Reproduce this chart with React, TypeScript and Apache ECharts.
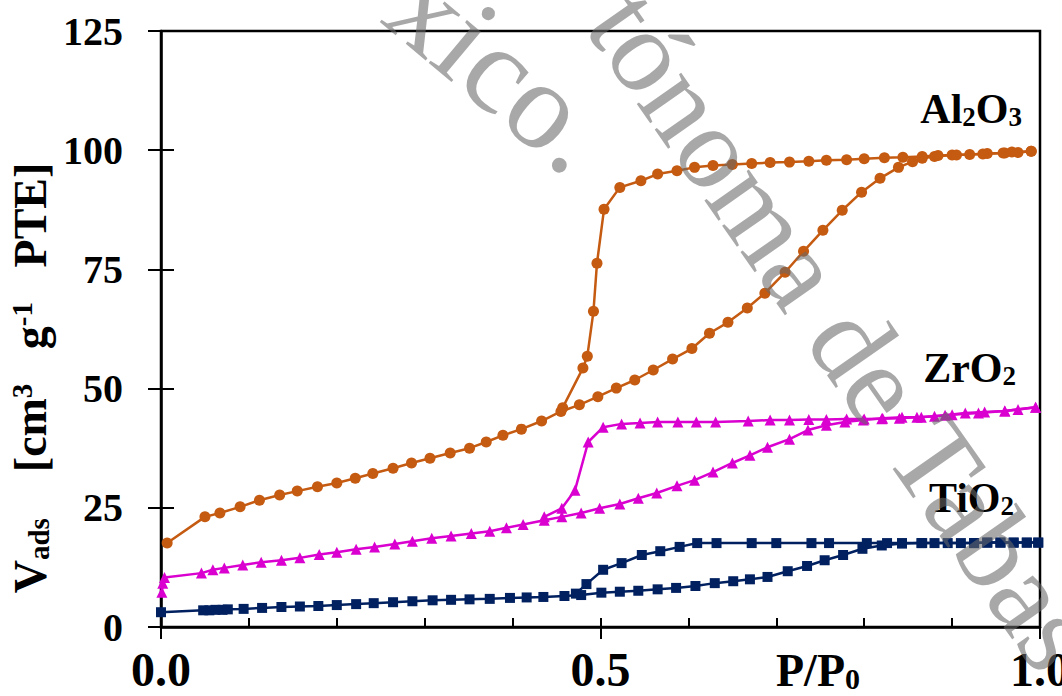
import React, { useEffect, useRef } from "react";
import * as echarts from "echarts";

// ---------- data ----------
const xTickLabels = ["0.0", "0.5", "1.0"];
const yTickValues = [0, 25, 50, 75, 100, 125];

const tio2Adsorption: [number, number][] = [
  [0.0, 3.1], [0.048, 3.5], [0.055, 3.5], [0.062, 3.6], [0.07, 3.6], [0.076, 3.7],
  [0.094, 3.8], [0.115, 4.0], [0.137, 4.2], [0.158, 4.3], [0.179, 4.4], [0.2, 4.6],
  [0.222, 4.8], [0.242, 5.0], [0.264, 5.2], [0.286, 5.4], [0.309, 5.6], [0.33, 5.7],
  [0.351, 5.8], [0.374, 5.9], [0.397, 6.1], [0.416, 6.2], [0.435, 6.3], [0.459, 6.5],
  [0.478, 6.7], [0.501, 7.2], [0.522, 7.4], [0.543, 7.6], [0.565, 7.9], [0.586, 8.2],
  [0.608, 8.6], [0.63, 9.2], [0.651, 9.6], [0.67, 10.0], [0.69, 10.5], [0.713, 11.7],
  [0.735, 12.8], [0.755, 14.0], [0.776, 15.1], [0.798, 16.4], [0.82, 17.1], [0.843, 17.5],
  [0.865, 17.6], [0.88, 17.6], [0.895, 17.6], [0.91, 17.6], [0.925, 17.6], [0.94, 17.7],
  [0.955, 17.7], [0.97, 17.7], [0.985, 17.7], [0.998, 17.7],
];
const tio2Desorption: [number, number][] = [
  [0.998, 17.7], [0.985, 17.7], [0.97, 17.7], [0.955, 17.7], [0.94, 17.7], [0.925, 17.6],
  [0.866, 17.6], [0.843, 17.6], [0.826, 17.6], [0.803, 17.6], [0.76, 17.6], [0.74, 17.6],
  [0.7, 17.6], [0.672, 17.6], [0.632, 17.6], [0.61, 17.6], [0.59, 16.8], [0.568, 15.9],
  [0.547, 15.1], [0.524, 13.4], [0.503, 12.0], [0.484, 9.0], [0.472, 7.0],
];

const zro2Adsorption: [number, number][] = [
  [0.001, 7.3], [0.002, 9.2], [0.004, 10.4], [0.046, 11.3], [0.059, 12.0], [0.072, 12.4],
  [0.093, 13.0], [0.114, 13.6], [0.137, 14.0], [0.158, 14.5], [0.18, 15.2], [0.2, 15.7],
  [0.222, 16.3], [0.243, 16.8], [0.266, 17.4], [0.286, 18.0], [0.308, 18.6], [0.33, 19.1],
  [0.353, 19.6], [0.374, 20.1], [0.393, 20.8], [0.412, 21.5], [0.436, 22.4], [0.456, 23.1],
  [0.478, 23.9], [0.499, 24.9], [0.522, 25.8], [0.543, 27.0], [0.564, 28.1], [0.587, 29.6],
  [0.607, 30.8], [0.628, 32.5], [0.65, 34.4], [0.67, 36.0], [0.69, 37.7], [0.715, 39.4],
  [0.736, 41.3], [0.757, 42.3], [0.778, 43.0], [0.799, 43.4], [0.821, 43.8], [0.843, 44.0],
  [0.865, 44.0], [0.892, 44.4], [0.915, 44.9], [0.937, 45.1], [0.96, 45.3], [0.975, 45.6],
  [0.995, 46.1],
];
const zro2Desorption: [number, number][] = [
  [0.995, 46.1], [0.96, 45.3], [0.93, 44.9], [0.9, 44.5], [0.88, 44.2], [0.86, 44.0],
  [0.84, 43.8], [0.82, 43.7], [0.8, 43.6], [0.78, 43.6], [0.757, 43.5], [0.737, 43.5],
  [0.715, 43.4], [0.693, 43.4], [0.668, 43.2], [0.631, 43.0], [0.609, 43.0], [0.588, 43.0],
  [0.565, 43.0], [0.545, 42.8], [0.524, 42.6], [0.503, 41.9], [0.486, 38.8], [0.471, 28.7],
  [0.456, 24.9], [0.436, 23.1],
];

const al2o3Adsorption: [number, number][] = [
  [0.007, 17.6], [0.05, 23.1], [0.067, 23.9], [0.09, 25.2], [0.112, 26.6], [0.135, 27.7],
  [0.155, 28.5], [0.178, 29.4], [0.2, 30.2], [0.221, 31.2], [0.241, 32.2], [0.264, 33.3],
  [0.285, 34.4], [0.306, 35.4], [0.329, 36.5], [0.351, 37.5], [0.37, 38.8], [0.389, 40.2],
  [0.41, 41.5], [0.433, 43.2], [0.455, 45.2], [0.476, 46.6], [0.497, 48.3], [0.518, 50.1],
  [0.539, 51.8], [0.56, 53.9], [0.582, 56.2], [0.604, 58.4], [0.624, 61.6], [0.645, 63.9],
  [0.667, 66.9], [0.687, 70.0], [0.71, 74.4], [0.731, 78.8], [0.753, 83.2], [0.775, 87.4],
  [0.797, 91.2], [0.818, 94.1], [0.839, 96.4], [0.855, 97.6], [0.866, 98.3], [0.88, 98.7],
  [0.9, 99.0], [0.92, 99.1], [0.94, 99.3], [0.96, 99.4], [0.975, 99.5], [0.99, 99.8],
];
const al2o3Desorption: [number, number][] = [
  [0.99, 99.8], [0.968, 99.6], [0.958, 99.4], [0.935, 99.2], [0.905, 99.0], [0.884, 98.9],
  [0.866, 98.7], [0.844, 98.5], [0.823, 98.4], [0.8, 98.2], [0.78, 98.0], [0.757, 97.9],
  [0.737, 97.7], [0.715, 97.5], [0.693, 97.4], [0.672, 97.2], [0.65, 97.0], [0.628, 96.8],
  [0.607, 96.4], [0.587, 95.7], [0.565, 95.0], [0.546, 93.6], [0.522, 92.2], [0.504, 87.6],
  [0.496, 76.3], [0.492, 66.2], [0.485, 56.8], [0.48, 54.3], [0.457, 46.0],
];

const seriesNames = ["TiO2", "ZrO2", "Al2O3"];
const seriesColors = ["#002060", "#D900D0", "#C55A11"];

// ---------- styling ----------
const FONT = "'Liberation Serif', 'Times New Roman', serif";
const AX = "#000";

function makeSeries(name: string, data: [number, number][], color: string, symbol: string, size: number) {
  return {
    name,
    type: "line",
    data,
    symbol,
    symbolSize: size,
    showSymbol: true,
    clip: false,
    smooth: false,
    lineStyle: { color, width: 2.5 },
    itemStyle: { color, borderWidth: 0 },
    emphasis: { disabled: true },
  };
}

function makeRich(size: number, sub: number) {
  return {
    b: { fontFamily: FONT, fontWeight: "bold", fontSize: size, lineHeight: size, color: "#000" },
    s: { fontFamily: FONT, fontWeight: "bold", fontSize: sub, lineHeight: 10, verticalAlign: "bottom", color: "#000" },
    p: { fontFamily: FONT, fontWeight: "bold", fontSize: sub, lineHeight: 20, verticalAlign: "top", color: "#000" },
  };
}

function richText(x: number, y: number, text: string, align: string, vAlign: string, size: number, sub: number, rotation = 0) {
  return {
    type: "text",
    x,
    y,
    rotation,
    silent: true,
    z: 50,
    style: {
      text,
      rich: makeRich(size, sub),
      align,
      verticalAlign: vAlign,
      textAlign: align,
      textVerticalAlign: vAlign,
      fill: "#000",
    },
  };
}

function watermark(x: number, y: number, text: string, size: number, angleDeg: number) {
  return {
    type: "text",
    x,
    y,
    rotation: (-angleDeg * Math.PI) / 180,
    silent: true,
    z: 100,
    style: {
      text,
      fontFamily: FONT,
      fontSize: size,
      fill: "rgba(105,105,105,0.58)",
      align: "left",
      verticalAlign: "middle",
      textAlign: "left",
      textVerticalAlign: "middle",
    },
  };
}

export default function App() {
  const ref = useRef<HTMLDivElement>(null);

  useEffect(() => {
    if (!ref.current) return;
    const chart = echarts.init(ref.current, null, { renderer: "svg" });
    const option: any = {
      animation: false,
      backgroundColor: "#fff",
      grid: {
        left: 161,
        right: 22,
        top: 31,
        bottom: 69,
        containLabel: false,
        outerBoundsMode: "none",
        show: true,
        borderColor: AX,
        borderWidth: 2.5,
        backgroundColor: "transparent",
      },
      xAxis: [
        {
          type: "value",
          position: "bottom",
          min: 0,
          max: 1,
          interval: 0.5,
          axisLine: { show: true, lineStyle: { color: AX, width: 2.5 } },
          axisTick: { show: true, inside: false, length: 12, lineStyle: { color: AX, width: 2 } },
          axisLabel: {
            show: true,
            margin: 18,
            fontFamily: FONT,
            fontWeight: "bold",
            fontSize: 48,
            color: "#000",
            formatter: (v: number) => xTickLabels[Math.round(v * 2)] ?? "",
          },
          splitLine: { show: false },
        },
        {
          type: "value",
          position: "bottom",
          min: 0,
          max: 1,
          interval: 0.1,
          axisLine: { show: false },
          axisTick: { show: true, inside: true, length: 9, lineStyle: { color: AX, width: 2 } },
          axisLabel: { show: false },
          splitLine: { show: false },
        },
      ],
      yAxis: [
        {
          type: "value",
          position: "left",
          min: 0,
          max: 125,
          interval: 25,
          axisLine: { show: true, lineStyle: { color: AX, width: 2.5 } },
          axisTick: { show: true, inside: false, length: 13, lineStyle: { color: AX, width: 2 } },
          axisLabel: {
            show: true,
            margin: 38,
            fontFamily: FONT,
            fontWeight: "bold",
            fontSize: 40,
            color: "#000",
            formatter: (v: number) => (yTickValues.includes(v) ? String(v) : ""),
          },
          splitLine: { show: false },
        },
        {
          type: "value",
          position: "left",
          offset: 0,
          min: 0,
          max: 125,
          interval: 25,
          axisLine: { show: false },
          axisTick: { show: true, inside: true, length: 13, lineStyle: { color: AX, width: 2 } },
          axisLabel: { show: false },
          splitLine: { show: false },
        },
      ],
      series: [
        makeSeries(seriesNames[0] + " ads", tio2Adsorption, seriesColors[0], "rect", 10),
        makeSeries(seriesNames[0] + " des", tio2Desorption, seriesColors[0], "rect", 10),
        makeSeries(seriesNames[1] + " ads", zro2Adsorption, seriesColors[1], "triangle", 11),
        makeSeries(seriesNames[1] + " des", zro2Desorption, seriesColors[1], "triangle", 11),
        makeSeries(seriesNames[2] + " ads", al2o3Adsorption, seriesColors[2], "circle", 11),
        makeSeries(seriesNames[2] + " des", al2o3Desorption, seriesColors[2], "circle", 11),
      ],
      graphic: [
        richText(1022, 130, "{b|Al}{s|2}{b|O}{s|3}", "right", "bottom", 42, 27),
        richText(1016, 389, "{b|ZrO}{s|2}", "right", "bottom", 42, 27),
        richText(1014, 519, "{b|TiO}{s|2}", "right", "bottom", 42, 27),
        richText(818, 693, "{b|P/P}{s|0}", "center", "bottom", 46, 30),
        richText(30, 378, "{b|V}{s|ads}{b|    [cm}{p|3}{b|   g}{p|-1}{b|   PTE]}", "center", "middle", 46, 29, Math.PI / 2),
        watermark(406, -11, "xico.", 125, 40),
        watermark(615, 4, "tónoma de Tabas", 118, 55),
      ],
    };
    chart.setOption(option);
    return () => chart.dispose();
  }, []);

  return (
    <div
      ref={ref}
      style={{ position: "fixed", left: 0, top: 0, width: 1062, height: 696, background: "#fff" }}
    />
  );
}
